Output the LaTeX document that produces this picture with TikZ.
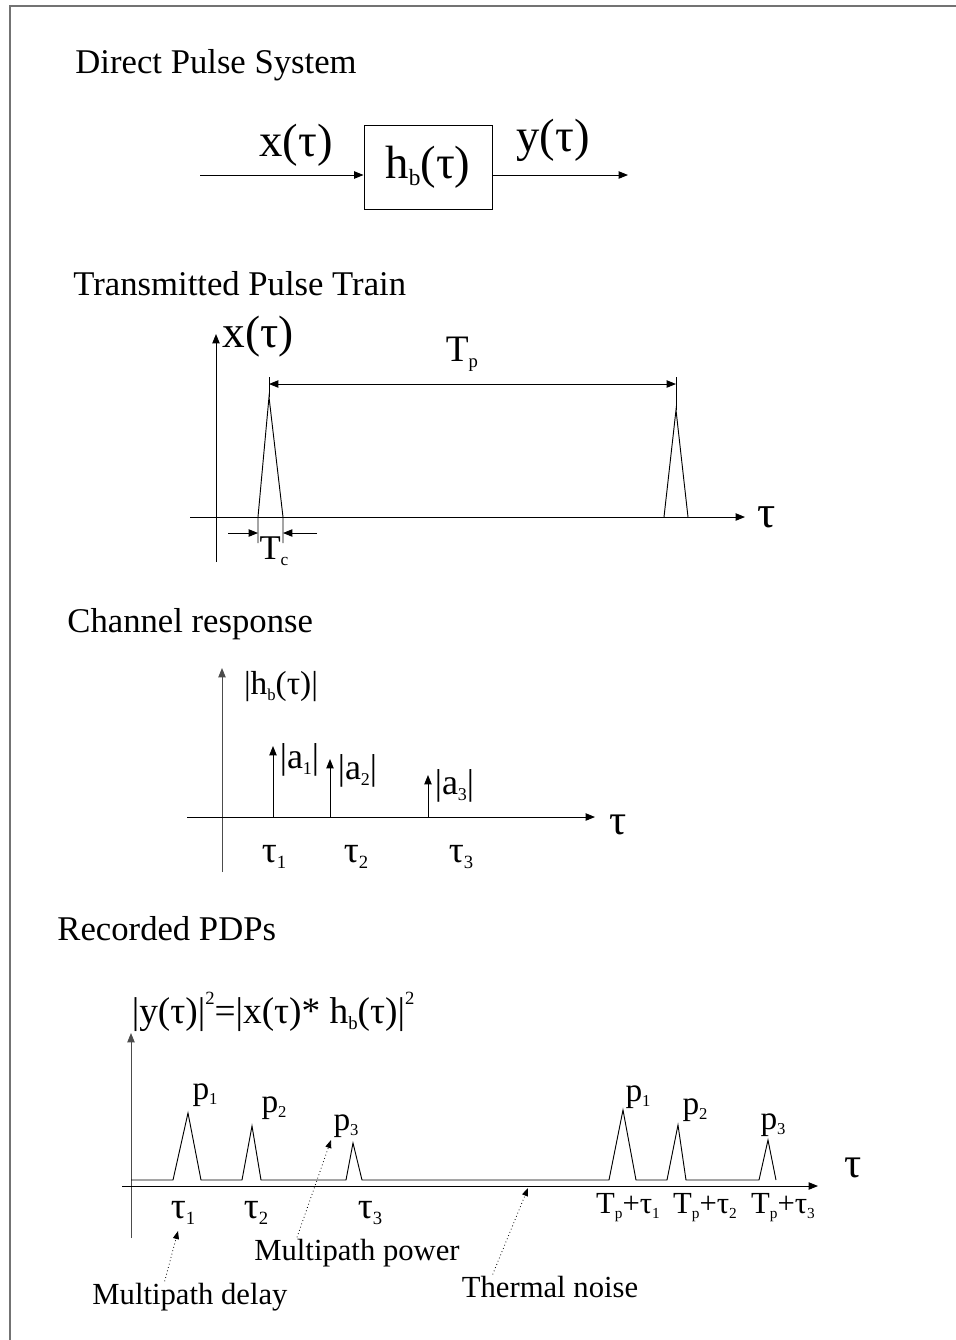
\documentclass[tikz,border=0pt]{standalone}
\usepackage{fontspec}
\setmainfont{Liberation Serif}
\usetikzlibrary{arrows.meta}
\newcommand{\fs}[1]{\fontsize{#1}{#1}\selectfont}
\newcommand{\lo}[1]{\raisebox{-0.35ex}{\scalebox{0.5}{#1}}}
\newcommand{\hi}[1]{\raisebox{1.1ex}{\scalebox{0.5}{#1}}}
\tikzset{
  arr/.style={-{Triangle[length=7pt,width=5.5pt]}},
  darr/.style={{Triangle[length=7pt,width=5.5pt]}-{Triangle[length=7pt,width=5.5pt]}},
  ptr/.style={dotted,line width=0.6pt,-{Triangle[length=6pt,width=4.5pt]}},
  lbl/.style={inner sep=1pt},
  title/.style={anchor=base west,inner sep=0pt,font=\fs{26}}
}
\begin{document}
\begin{tikzpicture}[x=0.75pt,y=-0.75pt,line width=0.7pt]
	\useasboundingbox (0,0) rectangle (956,1340);
	\draw[black!55,line width=1pt] (956,6) -- (10,6) -- (10,1340);

	\node[title] (t1) at (75,73) {Direct Pulse System};
	\node[draw,minimum width=96pt,minimum height=63pt,inner sep=0pt,font=\fs{35}] (sys) at (428,167) {h\lo{b}(τ)};
	\coordinate (in) at (200,175);
	\coordinate (out) at (628,175);
	\draw[arr] (in) -- (in -| sys.west);
	\draw[arr] (sys.east |- out) -- (out);
	\node[lbl,font=\fs{35}] (xin) at (296,145) {x(τ)};
	\node[lbl,font=\fs{35}] (yout) at (553,140) {y(τ)};

	\node[title] (t2) at (73,295) {Transmitted Pulse Train};
	\draw[arr] (216,562) -- (216,334);
	\draw[arr] (190,517) -- (745,517);
	\node[lbl,font=\fs{34}] (tau2) at (767,517) {τ};
	\node[lbl,anchor=west,font=\fs{34}] (xlab) at (221,337) {x(τ)};
	\draw (258,543) -- (258,517) -- (269,397) -- (283,517) -- (283,543);
	\draw (664,517) -- (676,410) -- (688,517);
	\draw (269,377) -- (269,397);
	\draw (676,377) -- (676,410);
	\draw[darr] (269,384) -- (676,384);
	\node[lbl,font=\fs{28}] (tp) at (462,354) {T\lo{p}};
	\draw[arr] (228,533) -- (258,533);
	\draw[arr] (317,533) -- (283,533);
	\node[lbl,font=\fs{26}] (tc) at (274,551) {T\lo{c}};

	\node[title] (t3) at (67,632) {Channel response};
	\draw[black!70,arr] (222,872) -- (222,668);
	\draw[arr] (187,817) -- (595,817);
	\node[lbl,font=\fs{32}] (tau3) at (618,825) {τ};
	\node[lbl,font=\fs{25}] (hlab) at (281,687) {|h\lo{b}(τ)|};
	\draw[arr] (273,817) -- (273,746);
	\draw[arr] (330,817) -- (330,759);
	\draw[arr] (428,817) -- (428,775);
	\node[lbl,anchor=west,font=\fs{27}] (a1) at (278,760) {|a\lo{1}|};
	\node[lbl,anchor=west,font=\fs{27}] (a2) at (336,771) {|a\lo{2}|};
	\node[lbl,anchor=west,font=\fs{27}] (a3) at (433,786) {|a\lo{3}|};
	\node[lbl,font=\fs{28}] (d1) at (274,857) {τ\lo{1}};
	\node[lbl,font=\fs{28}] (d2) at (356,857) {τ\lo{2}};
	\node[lbl,font=\fs{28}] (d3) at (461,857) {τ\lo{3}};

	\node[title] (t4) at (57,940) {Recorded PDPs};
	\node[lbl,anchor=west,font=\fs{28}] (ylab) at (130,1012) {|y(τ)|\hi{2}=|x(τ)* h\lo{b}(τ)|\hi{2}};
	\draw[black!70,arr] (131,1238) -- (131,1033);
	\draw[arr] (122,1186) -- (818,1186);
	\node[lbl,font=\fs{32}] (tau4) at (853,1168) {τ};
	\draw (131,1180) -- (173,1180) -- (188,1113) -- (201,1180) -- (242,1180) -- (252,1126) -- (261,1180)
		-- (346,1180) -- (353,1143) -- (362,1180) -- (609,1180) -- (623,1110) -- (636,1180) -- (667,1180)
		-- (678,1125) -- (686,1180) -- (759,1180) -- (768,1140) -- (776,1180);
	\node[lbl,font=\fs{25}] (p1) at (205,1095) {p\lo{1}};
	\node[lbl,font=\fs{25}] (p2) at (274,1108) {p\lo{2}};
	\node[lbl,font=\fs{25}] (p3) at (346,1126) {p\lo{3}};
	\node[lbl,font=\fs{25}] (q1) at (638,1097) {p\lo{1}};
	\node[lbl,font=\fs{25}] (q2) at (695,1110) {p\lo{2}};
	\node[lbl,font=\fs{25}] (q3) at (773,1125) {p\lo{3}};
	\node[lbl,font=\fs{28}] (e1) at (183,1213) {τ\lo{1}};
	\node[lbl,font=\fs{28}] (e2) at (256,1213) {τ\lo{2}};
	\node[lbl,font=\fs{28}] (e3) at (370,1213) {τ\lo{3}};
	\node[lbl,font=\fs{23}] (f1) at (628,1208) {T\lo{p}+τ\lo{1}};
	\node[lbl,font=\fs{23}] (f2) at (705,1208) {T\lo{p}+τ\lo{2}};
	\node[lbl,font=\fs{23}] (f3) at (783,1208) {T\lo{p}+τ\lo{3}};

	\node[lbl,font=\fs{23}] (delay) at (190,1297) {Multipath delay};
	\node[lbl,font=\fs{23}] (power) at (357,1253) {Multipath power};
	\node[lbl,font=\fs{23}] (noise) at (550,1287) {Thermal noise};
	\coordinate (dtip) at (178,1231);
	\coordinate (ptip) at (331,1140);
	\coordinate (ntip) at (528,1188);
	\draw[ptr] ([xshift=-19pt]delay.north) -- (dtip);
	\draw[ptr] ([xshift=-45pt]power.north) -- (ptip);
	\draw[ptr] ([xshift=-43pt]noise.north) -- (ntip);
\end{tikzpicture}
\end{document}
